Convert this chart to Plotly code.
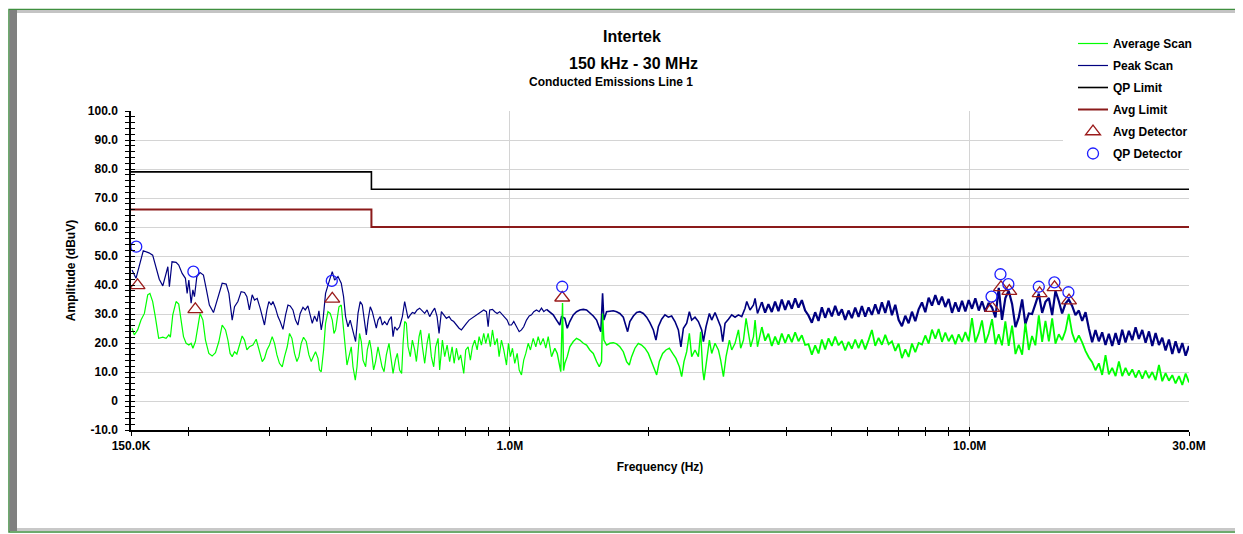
import plotly.graph_objects as go

# ---------------- data (frequencies in MHz, levels in dBuV) ----------------
qp_limit_f = [0.15, 0.5, 0.5, 30.0]
qp_limit_v = [79.0, 79.0, 73.0, 73.0]
avg_limit_f = [0.15, 0.5, 0.5, 30.0]
avg_limit_v = [66.0, 66.0, 60.0, 60.0]

# Peak scan, 150 kHz - 0.43 MHz
peak_f_a = [0.1508, 0.1538, 0.1595, 0.1641, 0.1672, 0.1700, 0.1728, 0.1759, 0.1782, 0.1804,
            0.1818, 0.1842, 0.1880, 0.1905, 0.1938, 0.1970, 0.1987, 0.2004, 0.2027, 0.2045,
            0.2061, 0.2086, 0.2120, 0.2156, 0.2185, 0.2221, 0.2267, 0.2306, 0.2344, 0.2368,
            0.2416, 0.2449, 0.2490, 0.2519, 0.2562, 0.2604, 0.2648, 0.2680, 0.2714, 0.2752,
            0.2784, 0.2822, 0.2864, 0.2904, 0.2927, 0.2963, 0.2992, 0.3027, 0.3053, 0.3093,
            0.3131, 0.3166, 0.3211, 0.3253, 0.3292, 0.3329, 0.3375, 0.3419, 0.3460, 0.3500,
            0.3549, 0.3590, 0.3638, 0.3679, 0.3718, 0.3761, 0.3807, 0.3844, 0.3889, 0.3923,
            0.3974, 0.4054, 0.4110, 0.4158, 0.4229]
peak_v_a = [45.2, 42.3, 51.8, 51.1, 50.3, 46.3, 42.0, 39.7, 42.9, 46.3,
            39.4, 48.0, 47.8, 46.9, 44.0, 42.3, 37.1, 41.7, 33.7, 38.3,
            36.0, 42.9, 44.3, 43.4, 38.9, 33.1, 30.5, 34.8, 38.9, 40.6,
            40.3, 37.1, 27.9, 32.5, 34.3, 37.7, 37.4, 36.0, 31.4, 36.6,
            34.8, 35.4, 32.0, 28.5, 26.2, 31.4, 34.3, 33.1, 34.3, 32.0,
            29.1, 27.4, 24.7, 29.7, 33.1, 32.8, 31.4, 27.9, 26.2, 30.2,
            32.3, 31.4, 32.8, 29.7, 26.8, 29.3, 27.4, 31.1, 24.5, 27.9,
            37.1, 41.7, 44.6, 41.7, 42.9]

# Peak scan, 0.43 - 1.19 MHz
peak_f_b = [0.4299, 0.4349, 0.4393, 0.4446, 0.4496, 0.4559, 0.4619, 0.4675, 0.4727, 0.4777,
            0.4833, 0.4874, 0.4916, 0.4971, 0.5022, 0.5081, 0.5124, 0.5168, 0.5226, 0.5281,
            0.5342, 0.5407, 0.5460, 0.5524, 0.5572, 0.5617, 0.5685, 0.5758, 0.5838, 0.5906,
            0.5956, 0.6007, 0.6075, 0.6138, 0.6210, 0.6285, 0.6365, 0.6454, 0.6529, 0.6608,
            0.6693, 0.6785, 0.6864, 0.6947, 0.7016, 0.7098, 0.7181, 0.7279, 0.7377, 0.7463,
            0.7550, 0.7653, 0.7756, 0.7847, 0.7939, 0.8047, 0.8155, 0.8250, 0.8347, 0.8460,
            0.8574, 0.8674, 0.8775, 0.8895, 0.8971, 0.9041, 0.9167, 0.9273, 0.9385, 0.9506,
            0.9638, 0.9750, 0.9868, 0.9966, 1.0082, 1.020, 1.034, 1.048, 1.060, 1.072,
            1.087, 1.102, 1.1145, 1.1275, 1.1429, 1.1583, 1.1718, 1.1855]
peak_v_b = [40.6, 36.0, 29.1, 25.6, 27.9, 24.5, 20.5, 30.2, 34.3, 33.1,
            26.8, 22.8, 27.9, 32.5, 30.8, 27.4, 25.1, 27.9, 29.1, 26.2,
            27.4, 26.2, 27.9, 29.1, 22.2, 25.6, 24.5, 25.6, 29.1, 34.3,
            31.4, 28.5, 29.7, 30.5, 30.2, 31.4, 32.0, 30.8, 30.2, 31.4,
            29.1, 30.8, 32.0, 29.1, 23.3, 30.8, 29.7, 28.5, 29.1, 27.9,
            27.4, 26.2, 25.1, 24.5, 25.4, 26.8, 27.9, 28.5, 29.1, 29.7,
            30.2, 30.8, 31.4, 30.8, 25.6, 31.4, 31.6, 30.8, 30.2, 30.8,
            29.7, 29.1, 27.9, 26.2, 26.2, 27.4, 25.6, 23.9, 24.5, 25.6,
            27.9, 29.3, 29.7, 30.8, 31.4, 30.8, 32.0, 30.8]

# Peak scan, 1.2 - 3.46 MHz
peak_f_c = [1.2017, 1.2214, 1.2428, 1.2635, 1.2842, 1.2954, 1.3172, 1.3331, 1.3502, 1.3739,
            1.3967, 1.4196, 1.4446, 1.4686, 1.4927, 1.5188, 1.5441, 1.5649, 1.5772, 1.5912,
            1.6016, 1.6235, 1.6501, 1.6790, 1.7069, 1.7349, 1.7653, 1.7884, 1.8037, 1.8241,
            1.8561, 1.8870, 1.9179, 1.9515, 1.9840, 2.0165, 2.0519, 2.0788, 2.1038, 2.1388,
            2.1747, 2.2119, 2.2488, 2.2866, 2.3257, 2.3556, 2.3850, 2.4247, 2.4573, 2.4860,
            2.5278, 2.5710, 2.6138, 2.6365, 2.6710, 2.7165, 2.7482, 2.7944, 2.8422, 2.8743,
            2.9042, 2.9380, 2.9883, 3.0381, 3.0891, 3.1420, 3.1943, 3.2480, 3.2758, 3.3294,
            3.3878, 3.4150, 3.4563]
peak_v_c = [31.6, 30.8, 29.7, 27.9, 26.2, 29.1, 28.5, 25.1, 27.4, 29.7,
            30.8, 31.4, 31.6, 31.4, 30.5, 29.3, 27.9, 25.1, 23.9, 37.1,
            27.9, 30.8, 31.0, 31.1, 30.8, 30.2, 28.9, 26.2, 23.9, 27.4,
            29.3, 30.5, 30.8, 30.2, 28.9, 27.0, 24.5, 21.0, 25.6, 28.2,
            29.7, 28.9, 29.3, 27.4, 24.5, 18.7, 25.1, 26.8, 30.8, 27.9,
            28.9, 27.4, 24.5, 20.5, 25.6, 30.2, 27.9, 30.5, 27.9, 25.6,
            20.5, 26.8, 28.2, 29.7, 28.9, 29.7, 29.1, 32.0, 34.3, 31.4,
            33.1, 35.4, 30.2]

# Shared scan frequencies, 3.5 - 30 MHz
scan_f_d = [3.531, 3.591, 3.651, 3.713, 3.775, 3.839, 3.904, 3.970, 4.037,
            4.105, 4.174, 4.244, 4.316, 4.388, 4.462, 4.538, 4.614, 4.692,
            4.771, 4.851, 4.933, 5.016, 5.100, 5.187, 5.274, 5.363, 5.453,
            5.545, 5.638, 5.734, 5.830, 5.928, 6.029, 6.130, 6.233, 6.339,
            6.445, 6.554, 6.665, 6.777, 6.891, 7.007, 7.125, 7.245, 7.368,
            7.492, 7.618, 7.746, 7.877, 8.009, 8.145, 8.282, 8.421, 8.564,
            8.708, 8.854, 9.004, 9.156, 9.310, 9.467, 9.627, 9.788, 9.954,
            10.12, 10.29, 10.47, 10.64, 10.82, 11.00, 11.19, 11.38, 11.57,
            11.76, 11.96, 12.16, 12.37, 12.58, 12.79, 13.01, 13.22, 13.45,
            13.67, 13.90, 14.14, 14.38, 14.62, 14.87, 15.12, 15.37, 15.63,
            15.89, 16.16, 16.43, 16.71, 16.99, 17.28, 17.57, 17.87, 18.17,
            18.47, 18.78, 19.10, 19.42, 19.75, 20.08, 20.42, 20.77, 21.12,
            21.47, 21.83, 22.20, 22.58, 22.96, 23.34, 23.74, 24.14, 24.55,
            24.96, 25.38, 25.81, 26.24, 26.68, 27.13, 27.59, 28.05, 28.53,
            29.01, 29.50, 30.00]
peak_v_d = [34.1, 30.5, 33.4, 30.7, 34.3, 31.0, 35.0, 31.4, 34.6,
            31.8, 35.4, 32.2, 34.8, 31.2, 29.5, 27.0, 30.6, 27.6,
            32.3, 28.7, 32.0, 29.2, 32.8, 29.5, 31.6, 28.0, 31.2,
            28.6, 32.2, 29.0, 32.7, 29.1, 32.3, 29.7, 33.3, 30.0,
            34.0, 30.4, 34.6, 29.6, 33.2, 28.0, 25.8, 29.4, 26.8,
            30.8, 27.5, 31.6, 34.0, 30.6, 35.6, 32.9, 36.5, 33.2,
            36.0, 32.4, 35.2, 30.4, 34.0, 30.8, 34.5, 30.9, 34.8,
            31.8, 35.4, 31.2, 34.4, 30.8, 33.8, 32.2, 28.8, 39.0,
            28.0, 35.5, 38.0, 33.5, 25.5, 28.8, 35.0, 26.5, 30.2,
            30.0, 33.4, 37.0, 30.4, 34.2, 35.5, 29.6, 38.0, 34.5,
            30.2, 33.6, 35.0, 32.8, 29.6, 31.2, 27.6, 30.6, 25.0,
            20.3, 24.5, 20.6, 23.7, 19.3, 23.2, 19.0, 23.4, 19.4,
            24.6, 20.2, 24.2, 21.0, 25.4, 21.4, 24.5, 20.1, 24.0,
            19.0, 23.4, 19.3, 21.8, 17.4, 21.2, 16.2, 20.6, 16.6,
            20.0, 15.6, 19.0]

# Average scan, 150 kHz - 0.43 MHz
avg_f_a = [0.1508, 0.1525, 0.1551, 0.1577, 0.1604, 0.1631, 0.1649, 0.1672, 0.1694, 0.1723,
           0.1759, 0.1788, 0.1813, 0.1827, 0.1849, 0.1880, 0.1905, 0.1928, 0.1951, 0.1977,
           0.2004, 0.2027, 0.2045, 0.2071, 0.2096, 0.2120, 0.2150, 0.2178, 0.2215, 0.2252,
           0.2290, 0.2329, 0.2368, 0.2408, 0.2437, 0.2464, 0.2490, 0.2519, 0.2549, 0.2582,
           0.2617, 0.2648, 0.2680, 0.2714, 0.2762, 0.2808, 0.2846, 0.2894, 0.2927, 0.2963,
           0.3001, 0.3042, 0.3078, 0.3115, 0.3155, 0.3199, 0.3236, 0.3280, 0.3318, 0.3358,
           0.3402, 0.3443, 0.3478, 0.3518, 0.3559, 0.3608, 0.3656, 0.3699, 0.3742, 0.3780,
           0.3826, 0.3855, 0.3889, 0.3935, 0.3974, 0.4022, 0.4067, 0.4110, 0.4145, 0.4179,
           0.4208, 0.4250, 0.4299]
avg_v_a = [25.1, 22.8, 24.5, 27.9, 30.2, 36.6, 37.1, 34.3, 29.1, 21.6,
           22.0, 21.6, 22.8, 22.0, 29.7, 34.3, 33.4, 27.9, 22.2, 19.9,
           19.3, 19.9, 18.2, 20.5, 25.6, 30.2, 27.9, 21.0, 16.4, 15.5,
           16.7, 20.5, 26.2, 24.5, 21.0, 16.4, 15.3, 17.0, 16.2, 19.3,
           22.4, 21.0, 17.6, 18.7, 19.3, 21.3, 18.2, 13.6, 14.7, 17.6,
           19.3, 22.2, 19.9, 15.9, 13.0, 11.8, 15.3, 18.7, 23.3, 21.6,
           16.4, 13.6, 15.3, 19.9, 22.0, 20.5, 15.9, 13.6, 15.5, 17.0,
           14.7, 10.7, 10.1, 17.6, 26.8, 30.8, 30.2, 27.9, 23.3, 24.5,
           27.9, 32.5, 33.1]

# Average scan, 0.43 - 1.21 MHz
avg_f_b = [0.4321, 0.4371, 0.4424, 0.4468, 0.4520, 0.4559, 0.4612, 0.4652, 0.4711, 0.4753,
           0.4794, 0.4857, 0.4898, 0.4954, 0.4997, 0.5055, 0.5106, 0.5168, 0.5208, 0.5273,
           0.5327, 0.5388, 0.5460, 0.5524, 0.5572, 0.5637, 0.5693, 0.5758, 0.5817, 0.5859,
           0.5906, 0.5956, 0.6007, 0.6075, 0.6138, 0.6210, 0.6263, 0.6347, 0.6397, 0.6454,
           0.6529, 0.6608, 0.6673, 0.6751, 0.6830, 0.6899, 0.6982, 0.7037, 0.7134, 0.7217,
           0.7305, 0.7398, 0.7490, 0.7566, 0.7653, 0.7741, 0.7818, 0.7939, 0.8019, 0.8115,
           0.8207, 0.8292, 0.8389, 0.8490, 0.8574, 0.8674, 0.8775, 0.8864, 0.8971, 0.9072,
           0.9167, 0.9273, 0.9385, 0.9478, 0.9589, 0.9701, 0.9834, 0.9931, 1.0029, 1.0133,
           1.0251, 1.0375, 1.048, 1.060, 1.072, 1.0832, 1.0963, 1.1087, 1.1242, 1.1389,
           1.1526, 1.1657, 1.1820, 1.1975, 1.2119]
avg_v_b = [29.1, 21.0, 12.4, 15.3, 18.7, 11.8, 7.2, 11.8, 23.3, 20.5,
           14.1, 11.8, 17.6, 21.0, 17.6, 10.7, 13.6, 18.7, 16.4, 11.8,
           10.1, 15.9, 19.9, 13.0, 9.5, 14.1, 16.4, 10.7, 9.5, 19.9,
           27.4, 26.8, 18.7, 15.3, 21.0, 17.6, 13.6, 22.2, 24.5, 18.7,
           13.0, 19.9, 23.3, 15.3, 11.8, 18.7, 21.6, 10.7, 21.0, 15.3,
           19.3, 13.6, 18.7, 13.0, 18.2, 14.1, 15.9, 9.5, 17.6, 18.7,
           14.1, 18.7, 21.0, 17.6, 22.2, 19.3, 23.3, 19.9, 23.3, 18.7,
           24.5, 19.3, 21.6, 15.3, 21.0, 17.6, 12.4, 19.9, 15.3, 18.2,
           13.0, 16.4, 10.7, 9.0, 14.1, 16.4, 19.9, 17.6, 21.6, 18.7,
           22.2, 19.3, 21.6, 18.2, 22.2]

# Average scan, 1.23 - 3.46 MHz
avg_f_c = [1.2321, 1.2528, 1.2680, 1.2805, 1.2906, 1.3020, 1.3086, 1.3172, 1.3331, 1.3502,
           1.3739, 1.3967, 1.4196, 1.4446, 1.4686, 1.4927, 1.5188, 1.5441, 1.5649, 1.5831,
           1.5912, 1.6016, 1.6235, 1.6501, 1.6790, 1.7069, 1.7349, 1.7653, 1.7947, 1.8189,
           1.8401, 1.8710, 1.9030, 1.9347, 1.9672, 2.0009, 2.0342, 2.0684, 2.0861, 2.1141,
           2.1497, 2.1856, 2.2229, 2.2603, 2.2980, 2.3372, 2.3644, 2.3921, 2.4247, 2.4573,
           2.4860, 2.5278, 2.5710, 2.6001, 2.6271, 2.6444, 2.6805, 2.7165, 2.7482, 2.7944,
           2.8422, 2.8743, 2.9146, 2.9528, 3.0031, 3.0381, 3.0891, 3.1420, 3.1775, 3.2221,
           3.2643, 3.3035, 3.3409, 3.3878, 3.4150, 3.4563]
avg_v_c = [15.3, 18.2, 16.4, 13.0, 10.1, 33.8, 10.5, 13.0, 15.3, 18.7,
           20.5, 21.6, 21.0, 19.9, 19.3, 17.6, 16.4, 13.6, 11.8, 13.6,
           30.2, 21.0, 19.3, 19.9, 20.1, 19.7, 18.7, 17.0, 13.6, 12.4,
           15.3, 18.2, 19.9, 19.3, 18.2, 16.4, 13.6, 10.1, 9.0, 13.6,
           16.4, 17.6, 18.2, 16.4, 14.7, 11.8, 8.4, 13.6, 17.0, 23.3,
           15.3, 17.6, 15.3, 23.9, 10.7, 7.2, 14.1, 21.0, 16.4, 19.9,
           17.6, 14.1, 8.4, 15.3, 21.0, 17.6, 19.9, 24.5, 18.2, 21.0,
           28.5, 23.3, 18.7, 22.2, 27.9, 18.7]

# Average scan, 3.5 - 30 MHz (on scan_f_d)
avg_v_d = [25.5, 20.8, 23.2, 19.0, 22.2, 19.4, 23.3, 20.0, 23.0,
           20.3, 23.7, 20.6, 22.7, 19.3, 19.6, 16.0, 19.2, 16.4,
           21.2, 17.8, 21.6, 19.0, 22.2, 19.2, 20.7, 17.4, 20.4,
           18.0, 21.2, 18.2, 21.2, 17.8, 21.0, 24.5, 19.0, 21.8,
           19.4, 22.8, 19.6, 20.6, 17.3, 19.8, 14.8, 17.8, 15.2,
           19.8, 16.8, 20.0, 19.5, 22.6, 19.8, 24.6, 21.5, 24.8,
           20.4, 23.6, 20.6, 22.8, 19.6, 23.0, 20.4, 23.8, 20.6,
           28.6, 20.2, 23.4, 27.8, 20.0, 23.2, 28.2, 19.6, 23.0,
           19.2, 27.5, 19.0, 26.0, 16.2, 19.4, 16.0, 26.8, 17.6,
           22.4, 19.2, 29.5, 20.4, 27.6, 20.6, 28.5, 19.8, 23.0,
           21.0, 24.2, 30.0, 23.4, 20.2, 22.6, 20.2, 17.2, 15.0,
           13.4, 10.6, 13.0, 9.0, 15.8, 9.2, 11.4, 8.6, 13.6,
           8.6, 11.4, 8.8, 10.9, 8.1, 10.6, 7.7, 10.5, 7.9,
           10.0, 7.2, 12.4, 6.8, 9.6, 7.0, 8.9, 6.1, 8.6,
           5.5, 9.5, 6.4]

# Detector readings
qp_det_f = [0.154, 0.205, 0.410, 1.30, 11.16, 11.67, 12.14, 14.14, 15.29, 16.40]
qp_det_v = [53.2, 44.6, 41.4, 39.4, 36.0, 43.7, 40.3, 39.4, 40.9, 37.5]
avg_det_f = [0.155, 0.207, 0.411, 1.30, 11.2, 11.7, 12.2, 14.2, 15.3, 16.45]
avg_det_v = [39.9, 31.6, 35.2, 35.6, 32.0, 39.2, 37.9, 37.1, 39.2, 34.6]

# Axis ticks
x_tick_vals = [0.15, 1.0, 10.0, 30.0]
x_tick_text = ["150.0K", "1.0M", "10.0M", "30.0M"]
x_minor_vals = [0.2, 0.3, 0.4, 0.5, 0.6, 0.7, 0.8, 0.9, 2, 3, 4, 5, 6, 7, 8, 9, 20]
y_tick_vals = [-10, 0, 10, 20, 30, 40, 50, 60, 70, 80, 90, 100]
y_tick_text = ["-10.0", "0", "10.0", "20.0", "30.0", "40.0", "50.0", "60.0",
               "70.0", "80.0", "90.0", "100.0"]
y_minor_vals = [v for v in range(-8, 100, 2) if v % 10 != 0]
y_all_vals = list(range(-10, 101, 2))

# --------------------------------------------------------------------------
peak_lo_f = peak_f_a + peak_f_b + peak_f_c[:1]
peak_lo_v = peak_v_a + peak_v_b + peak_v_c[:1]
avg_lo_f = avg_f_a + avg_f_b + avg_f_c[:1]
avg_lo_v = avg_v_a + avg_v_b + avg_v_c[:1]
# the denser upper part of each scan is drawn with a heavier stroke
peak_hi = [(peak_f_c + scan_f_d[:1], peak_v_c + peak_v_d[:1], 1.6),
           (scan_f_d, peak_v_d, 2.2)]
avg_hi = [(avg_f_c + scan_f_d[:1], avg_v_c + avg_v_d[:1], 1.4),
          (scan_f_d, avg_v_d, 1.8)]
for a, b, _ in peak_hi + avg_hi + [(peak_lo_f, peak_lo_v, 0), (avg_lo_f, avg_lo_v, 0)]:
    assert len(a) == len(b), (len(a), len(b))

FONT = "Liberation Sans, Arial, sans-serif"
OFF = 8                      # page body margin of the html page
W, H = 1243 - OFF, 534 - OFF
L, T = 131 - OFF, 111 - OFF
R = W - (1189 - OFF)
B = H - (430 - OFF)
PW, PH = W - L - R, H - T - B


def px(X):                   # reference screen x -> paper
    return (X - OFF - L) / PW


def py(Y):                   # reference screen y -> paper
    return (H - B - (Y - OFF)) / PH


PEAK = "#000080"
AVG = "#00FF00"

fig = go.Figure()

# legend-bearing traces, in legend order
fig.add_trace(go.Scatter(x=avg_lo_f, y=avg_lo_v, mode="lines", name="Average Scan",
                         line=dict(color=AVG, width=1.2), legendgroup="g1"))
fig.add_trace(go.Scatter(x=peak_lo_f, y=peak_lo_v, mode="lines", name="Peak Scan",
                         line=dict(color=PEAK, width=1.2), legendgroup="g2"))
fig.add_trace(go.Scatter(x=qp_limit_f, y=qp_limit_v, mode="lines", name="QP Limit",
                         line=dict(color="#000000", width=1.6), legendgroup="g3"))
fig.add_trace(go.Scatter(x=avg_limit_f, y=avg_limit_v, mode="lines", name="Avg Limit",
                         line=dict(color="#8B1A1A", width=2), legendgroup="g4"))
# continuation of the scans (not in legend)
for fx, fv, w in peak_hi:
    fig.add_trace(go.Scatter(x=fx, y=fv, mode="lines", name="peak (cont.)",
                             line=dict(color=PEAK, width=w), showlegend=False,
                             legendgroup="g2"))
for fx, fv, w in avg_hi:
    fig.add_trace(go.Scatter(x=fx, y=fv, mode="lines", name="average (cont.)",
                             line=dict(color=AVG, width=w), showlegend=False,
                             legendgroup="g1"))
fig.add_trace(go.Scatter(x=avg_det_f, y=avg_det_v, mode="markers", name="Avg Detector",
                         marker=dict(symbol="triangle-up-open", size=13, color="#9B1B1B",
                                     line=dict(width=1.3)), legendgroup="g5"))
fig.add_trace(go.Scatter(x=qp_det_f, y=qp_det_v, mode="markers", name="QP Detector",
                         marker=dict(symbol="circle-open", size=11, color="#1E1EFF",
                                     line=dict(width=1.3)), legendgroup="g6"))
# carrier trace for the overlay axes that draw the crossing tick marks
fig.add_trace(go.Scatter(x=qp_limit_f, y=qp_limit_v, xaxis="x2", yaxis="y2",
                         mode="lines", line=dict(width=0), opacity=0,
                         showlegend=False, hoverinfo="skip", legendgroup="g7"))

xrange = [-0.823909, 1.477121]
tickfont = dict(family=FONT, size=12, color="black", weight="bold")

fig.update_layout(
    width=W, height=H,
    margin=dict(l=L, r=R, t=T, b=B, pad=0),
    paper_bgcolor="white", plot_bgcolor="white",
    font=dict(family=FONT, color="black"),
    showlegend=True,
    legend=dict(x=px(1073), y=py(29), xanchor="left", yanchor="top",
                bgcolor="rgba(0,0,0,0)", traceorder="grouped", tracegroupgap=3,
                font=dict(family=FONT, size=12, color="black", weight="bold"),
                itemwidth=30),
    xaxis=dict(type="log", range=xrange, tickvals=x_tick_vals, ticktext=x_tick_text,
               ticks="outside", ticklen=4, tickcolor="black", tickwidth=1,
               showline=True, linecolor="black", linewidth=1.5,
               showgrid=True, gridcolor="#D4D4D4", gridwidth=1, zeroline=False,
               minor=dict(tickvals=x_minor_vals, ticks="outside", ticklen=4,
                          tickcolor="black", showgrid=False),
               tickfont=tickfont,
               title=dict(text="Frequency (Hz)", standoff=10,
                          font=dict(family=FONT, size=12, color="black", weight="bold"))),
    yaxis=dict(range=[-10, 100], tickvals=y_tick_vals, ticktext=y_tick_text,
               ticks="outside", ticklen=4, tickcolor="black", tickwidth=1,
               ticklabelstandoff=5,
               showline=True, linecolor="black", linewidth=1.5,
               showgrid=True, gridcolor="#D4D4D4", gridwidth=1, zeroline=False,
               minor=dict(tickvals=y_minor_vals, ticks="outside", ticklen=4,
                          tickcolor="black", showgrid=False),
               tickfont=tickfont,
               title=dict(text="Amplitude (dBuV)", standoff=10,
                          font=dict(family=FONT, size=12, color="black", weight="bold"))),
    xaxis2=dict(type="log", range=xrange, overlaying="x", anchor="y2", side="bottom",
                tickvals=x_tick_vals + x_minor_vals, ticks="inside", ticklen=3,
                tickcolor="black", showticklabels=False, showgrid=False,
                showline=False, zeroline=False),
    yaxis2=dict(range=[-10, 100], overlaying="y", anchor="x2", side="left",
                tickvals=y_all_vals, ticks="inside", ticklen=4, tickcolor="black",
                showticklabels=False, showgrid=False, showline=False, zeroline=False),
)

# Titles
fig.add_annotation(text="Intertek", x=px(632), y=py(37), xref="paper", yref="paper",
                   showarrow=False, xanchor="center", yanchor="middle",
                   font=dict(family=FONT, size=16, color="black", weight="bold"))
fig.add_annotation(text="150 kHz - 30 MHz", x=px(633), y=py(63), xref="paper", yref="paper",
                   showarrow=False, xanchor="center", yanchor="middle",
                   font=dict(family=FONT, size=16, color="black", weight="bold"))
fig.add_annotation(text="Conducted Emissions Line 1", x=px(611), y=py(82),
                   xref="paper", yref="paper", showarrow=False,
                   xanchor="center", yanchor="middle",
                   font=dict(family=FONT, size=12, color="black", weight="bold"))

# Frame decoration (paper coordinates)
shapes = [
    # white panel behind the legend hiding the top of the grid
    dict(type="rect", xref="paper", yref="paper", x0=px(1063), x1=px(1192),
         y0=py(160), y1=py(100), fillcolor="white", line=dict(width=0), layer="above"),
    # outer green border
    dict(type="rect", xref="paper", yref="paper", x0=px(9), x1=px(1241.5),
         y0=py(532), y1=py(9.5), fillcolor="rgba(0,0,0,0)",
         line=dict(color="#3F8F3F", width=1.5), layer="below"),
    # left grey bar
    dict(type="rect", xref="paper", yref="paper", x0=px(9.5), x1=px(17),
         y0=py(531), y1=py(10), fillcolor="#808080", line=dict(width=0), layer="below"),
    # top bevel
    dict(type="rect", xref="paper", yref="paper", x0=px(17), x1=px(1240),
         y0=py(13), y1=py(10), fillcolor="#C4C4C4", line=dict(width=0), layer="below"),
    # right bevel
    dict(type="rect", xref="paper", yref="paper", x0=px(1236), x1=px(1240),
         y0=py(531), y1=py(10), fillcolor="#C0C0C0", line=dict(width=0), layer="below"),
    # bottom bevel
    dict(type="rect", xref="paper", yref="paper", x0=px(17), x1=px(1240),
         y0=py(531), y1=py(528), fillcolor="#C8C8C8", line=dict(width=0), layer="below"),
]
fig.update_layout(shapes=shapes)

fig.write_html("out.html")
